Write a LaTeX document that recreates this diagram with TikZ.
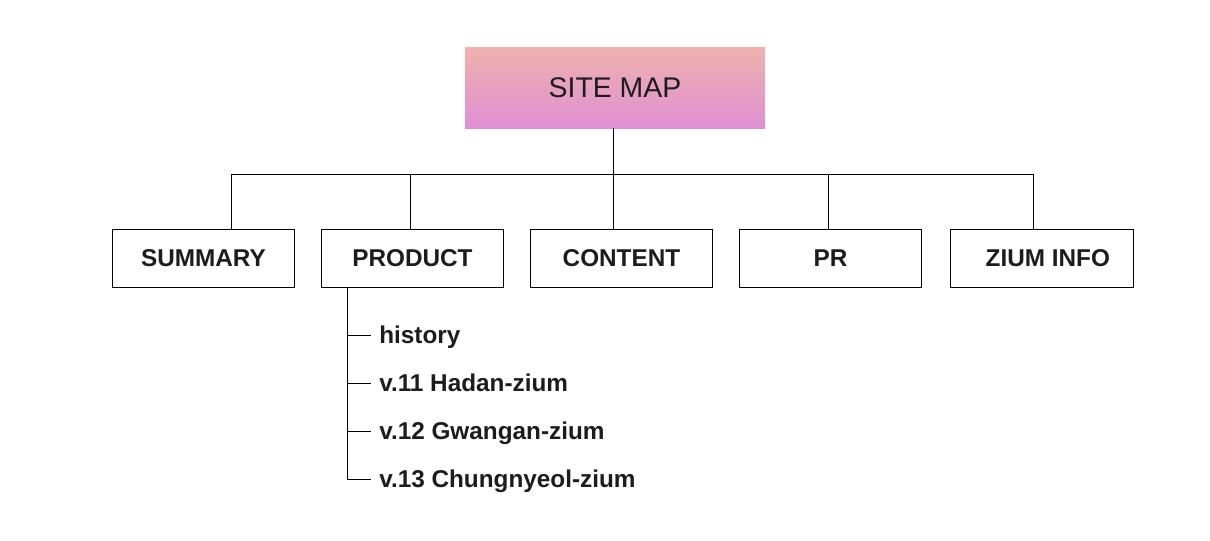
\documentclass[tikz,border=0pt]{standalone}
\usepackage{fontspec}
\setmainfont{Liberation Sans}
\usepackage{tikz}
\usetikzlibrary{positioning,calc}
\definecolor{MapRose}{HTML}{EEB2AE}
\definecolor{MapOrchid}{HTML}{E08FD3}
\definecolor{InkGray}{HTML}{1C1C1C}

\begin{document}
\begin{tikzpicture}[node distance=0.64cm, line width=0.7pt,
    menu/.style={draw=black,line width=0.7pt,minimum width=4.56cm,minimum height=1.45cm,
      inner sep=0pt,text=InkGray,font=\fontsize{17.3}{20}\selectfont\bfseries},
    sub/.style={anchor=west,inner xsep=0.2cm,inner ysep=0pt,text height=12pt,text depth=0pt,
      text=InkGray,font=\fontsize{17.3}{20}\selectfont\bfseries}]
    \useasboundingbox (0,0) rectangle (30.25,-13.5);
    % top box
    \node[top color=MapRose,bottom color=MapOrchid,minimum width=7.5cm,minimum height=2.025cm,
      inner sep=0pt,text=InkGray,font=\fontsize{20.2}{24}\selectfont] (title) at (15.375,-2.1875) {SITE MAP};
    % menu row
    \node[menu] (summary) at (5.0875,-6.45) {SUMMARY};
    \node[menu,right=of summary] (product) {PRODUCT};
    \node[menu,right=of product] (content) {CONTENT};
    \node[menu,right=of content] (pr) {PR};
    \node[menu,right=0.7cm of pr] (info) {\hspace*{0.3cm}ZIUM INFO};
    \coordinate (hub) at ($(title.south)+(-0.05,-1.15)$);
    \draw ([xshift=-0.05cm]title.south) -- (hub);
    \draw ([xshift=0.69cm]summary.north) |- (hub);
    \draw ([xshift=-0.04cm]product.north) |- (hub);
    \draw (content.north -| hub) -- (hub);
    \draw ([xshift=-0.05cm]pr.north) |- (hub);
    \draw ([xshift=-0.2cm]info.north) |- (hub);
    % product pages
    \coordinate (spine) at ([xshift=0.675cm]product.south west);
    \node[sub] (hist) at ($(product.south west)+(1.25cm,-1.2cm)$) {history};
    \node[sub,below=1.2cm of hist.west,anchor=west] (v11) {v.11 Hadan-zium};
    \node[sub,below=1.2cm of v11.west,anchor=west] (v12) {v.12 Gwangan-zium};
    \node[sub,below=1.2cm of v12.west,anchor=west] (v13) {v.13 Chungnyeol-zium};
    \draw (spine) |- (hist.west);
    \draw (spine) |- (v11.west);
    \draw (spine) |- (v12.west);
    \draw (spine) |- (v13.west);
  \end{tikzpicture}
\end{document}
